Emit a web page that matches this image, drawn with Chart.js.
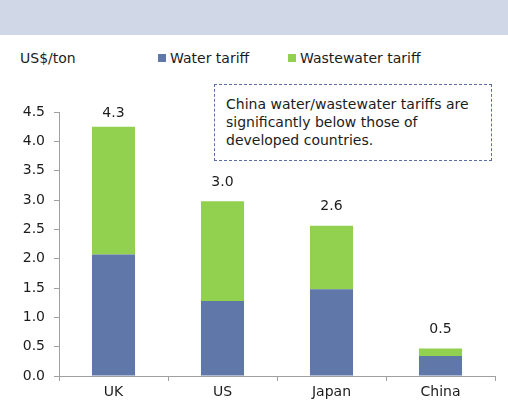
<!DOCTYPE html>
<html>
<head>
<meta charset="utf-8">
<script src="https://cdn.jsdelivr.net/npm/chart.js@4.4.0/dist/chart.umd.min.js"></script>
<style>
  body { margin: 0; background: #fff; }
  #wrap { position: relative; width: 508px; height: 409px; font-family: "DejaVu Sans", sans-serif; color: #1c1c1c; }
  #band { position: absolute; left: 0; top: 0; width: 508px; height: 35px; background: #d0d7e6; }
  #unit { position: absolute; left: 20px; top: 50px; font-size: 14px; }
  .leg { position: absolute; top: 50px; font-size: 14px; white-space: nowrap; }
  .leg i { display: inline-block; width: 8px; height: 8px; margin-right: 4px; vertical-align: 1px; }
  #note { position: absolute; left: 214px; top: 84px; width: 278px; height: 77px; border: 1px dashed #5b6fa6; box-sizing: border-box;
          font-size: 14px; line-height: 18px; padding: 10px 0 0 11px; }
  canvas { position: absolute; left: 0; top: 0; }
</style>
</head>
<body>
<div id="wrap">
  <div id="band"></div>
  <div id="unit">US$/ton</div>
  <div class="leg" style="left:158px"><i style="background:#5f77a9"></i>Water tariff</div>
  <div class="leg" style="left:288px"><i style="background:#92d050"></i>Wastewater tariff</div>
  <div id="note">China water/wastewater tariffs are<br>significantly below those of<br>developed countries.</div>
  <canvas id="chart" width="508" height="409"></canvas>
</div>
<script>
var countries = ["UK", "US", "Japan", "China"];
var waterTariff = [2.07, 1.28, 1.48, 0.34];
var wastewaterTariff = [2.18, 1.70, 1.08, 0.13];
var totalLabels = ["4.3", "3.0", "2.6", "0.5"];
var yTicks = [0, 0.5, 1, 1.5, 2, 2.5, 3, 3.5, 4, 4.5];

var totalsPlugin = {
  id: "totals",
  afterDatasetsDraw: function (chart) {
    var ctx = chart.ctx;
    var x = chart.scales.x, y = chart.scales.y;
    ctx.save();
    ctx.font = "14px 'DejaVu Sans', sans-serif";
    ctx.fillStyle = "#1c1c1c";
    ctx.textAlign = "center";
    ctx.textBaseline = "middle";
    for (var i = 0; i < countries.length; i++) {
      var top = y.getPixelForValue(waterTariff[i] + wastewaterTariff[i]);
      var ly = Math.max(top - 19, chart.chartArea.top + 1);
      ctx.fillText(totalLabels[i], x.getPixelForValue(i), ly);
    }
    ctx.restore();
  }
};

new Chart(document.getElementById("chart"), {
  type: "bar",
  data: {
    labels: countries,
    datasets: [
      { label: "Water tariff", data: waterTariff, backgroundColor: "#5f77a9", borderWidth: 0 },
      { label: "Wastewater tariff", data: wastewaterTariff, backgroundColor: "#92d050", borderWidth: 0 }
    ]
  },
  options: {
    responsive: false,
    animation: false,
    layout: { padding: { top: 112, right: 13, left: 0, bottom: 0 } },
    datasets: { bar: { barPercentage: 0.395, categoryPercentage: 1 } },
    plugins: { legend: { display: false }, tooltip: { enabled: false } },
    scales: {
      x: {
        stacked: true,
        afterFit: function (s) { s.height = 33; },
        grid: { drawOnChartArea: false, tickLength: 5, color: "#a0a0a0" },
        border: { color: "#a0a0a0" },
        ticks: { color: "#1c1c1c", padding: 3, font: { family: "DejaVu Sans", size: 14 } }
      },
      y: {
        stacked: true,
        min: 0,
        max: 4.5,
        afterFit: function (s) { s.width = 59; },
        afterBuildTicks: function (s) { s.ticks = yTicks.map(function (v) { return { value: v }; }); },
        grid: { drawOnChartArea: false, tickLength: 5, color: "#a0a0a0" },
        border: { color: "#a0a0a0" },
        ticks: {
          color: "#1c1c1c", padding: 9, font: { family: "DejaVu Sans", size: 14 },
          callback: function (v) { return v.toFixed(1); }
        }
      }
    }
  },
  plugins: [totalsPlugin]
});
</script>
</body>
</html>
